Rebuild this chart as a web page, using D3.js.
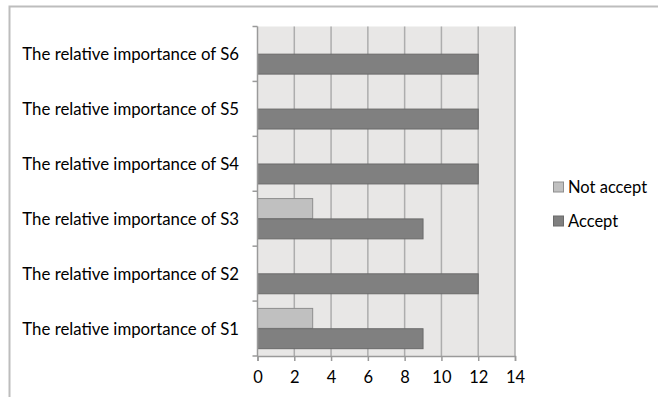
<!DOCTYPE html>
<html>
<head>
<meta charset="utf-8">
<script src="https://cdn.jsdelivr.net/npm/d3@7"></script>
<style>
  body { margin: 0; background: #fff; }
  svg text { font-family: Lato, "Open Sans", "DejaVu Sans", sans-serif; fill: #000; }
</style>
</head>
<body>
<div id="chart"></div>
<script>
// data
var categories = ["The relative importance of S1", "The relative importance of S2",
                  "The relative importance of S3", "The relative importance of S4",
                  "The relative importance of S5", "The relative importance of S6"];
var accept = [9, 12, 9, 12, 12, 12];
var notAccept = [3, 0, 3, 0, 0, 0];
var xTicks = [0, 2, 4, 6, 8, 10, 12, 14];
var seriesNames = ["Not accept", "Accept"];

function init() {
    var w = 658;
    var h = 397;
    var left = 257.5, right = 515, top = 26.5, bottom = 356;

    var svg = d3.select("#chart")
                .append("svg")
                .attr("width", w)
                .attr("height", h);

    // outer chart border (only top and left are visible)
    svg.append("path")
        .attr("d", "M9.5," + h + "V6.5H" + w)
        .attr("fill", "none")
        .attr("stroke", "#bdbdbd")
        .attr("stroke-width", 2);

    var xScale = d3.scaleLinear()
                   .domain([0, 14])
                   .range([left, right]);

    // S1 at the bottom, S6 at the top
    var yScale = d3.scaleBand()
                   .domain(categories.slice().reverse())
                   .range([top, bottom]);

    var inner = d3.scaleBand()
                  .domain(seriesNames)
                  .range([0, yScale.bandwidth()])
                  .paddingOuter(0.36)
                  .paddingInner(0.02);

    // plot background
    svg.append("rect")
        .attr("x", left)
        .attr("y", top)
        .attr("width", right - left)
        .attr("height", bottom - top)
        .attr("fill", "#e8e7e6");

    // vertical gridlines
    svg.selectAll(".grid")
        .data(xTicks.slice(1))
        .enter()
        .append("line")
        .attr("x1", function(d) { return xScale(d); })
        .attr("x2", function(d) { return xScale(d); })
        .attr("y1", top)
        .attr("y2", bottom)
        .attr("stroke", "#adadad")
        .attr("stroke-width", 1.5);

    var rows = categories.map(function(c, i) {
        return { cat: c, values: [
            { name: "Not accept", v: notAccept[i] },
            { name: "Accept", v: accept[i] }
        ] };
    });

    var colors = { "Not accept": "#c0c0c0", "Accept": "#808080" };
    var strokes = { "Not accept": "#8e8e8e", "Accept": "#6a6a6a" };

    var groups = svg.selectAll(".row")
        .data(rows)
        .enter()
        .append("g")
        .attr("transform", function(d) { return "translate(0," + yScale(d.cat) + ")"; });

    groups.selectAll("rect")
        .data(function(d) { return d.values.filter(function(s) { return s.v > 0; }); })
        .enter()
        .append("rect")
        .attr("x", xScale(0))
        .attr("y", function(d) { return inner(d.name); })
        .attr("width", function(d) { return xScale(d.v) - xScale(0); })
        .attr("height", inner.bandwidth())
        .attr("fill", function(d) { return colors[d.name]; })
        .attr("stroke", function(d) { return strokes[d.name]; })
        .attr("stroke-width", 1);

    // axes
    var xAxis = d3.axisBottom(xScale)
                  .tickValues(xTicks)
                  .tickSize(5)
                  .tickPadding(10);

    var gx = svg.append("g")
        .attr("transform", "translate(0," + bottom + ")")
        .call(xAxis);
    gx.select(".domain").attr("stroke", "#9a9a9a").attr("stroke-width", 1.5);
    gx.selectAll(".tick line").attr("stroke", "#9a9a9a").attr("stroke-width", 1.5);
    gx.selectAll("text").style("font-size", "16.5px").attr("fill", "#000");

    // y axis: ticks at band boundaries
    var boundaries = d3.range(categories.length + 1).map(function(i) {
        return top + i * yScale.step();
    });
    svg.append("line")
        .attr("x1", left).attr("x2", left)
        .attr("y1", top).attr("y2", bottom)
        .attr("stroke", "#9a9a9a").attr("stroke-width", 1.5);
    svg.selectAll(".ytick")
        .data(boundaries)
        .enter()
        .append("line")
        .attr("x1", left - 5).attr("x2", left)
        .attr("y1", function(d) { return d; })
        .attr("y2", function(d) { return d; })
        .attr("stroke", "#9a9a9a").attr("stroke-width", 1.5);

    svg.selectAll(".ylabel")
        .data(categories)
        .enter()
        .append("text")
        .attr("x", 239)
        .attr("y", function(d) { return yScale(d) + yScale.bandwidth() / 2 + 0.5; })
        .attr("dy", "0.35em")
        .attr("text-anchor", "end")
        .style("font-size", "16.8px")
        .text(function(d) { return d; });

    // legend
    var legend = svg.selectAll(".legend")
        .data(seriesNames)
        .enter()
        .append("g")
        .attr("transform", function(d, i) { return "translate(553," + (187 + i * 34) + ")"; });

    legend.append("rect")
        .attr("x", 0.5)
        .attr("y", -5)
        .attr("width", 10)
        .attr("height", 10)
        .attr("fill", function(d) { return colors[d]; })
        .attr("stroke", function(d) { return strokes[d]; });

    legend.append("text")
        .attr("x", 15)
        .attr("y", 0)
        .attr("dy", "0.35em")
        .style("font-size", "16.5px")
        .text(function(d) { return d; });
}
window.onload = init;
</script>
</body>
</html>
